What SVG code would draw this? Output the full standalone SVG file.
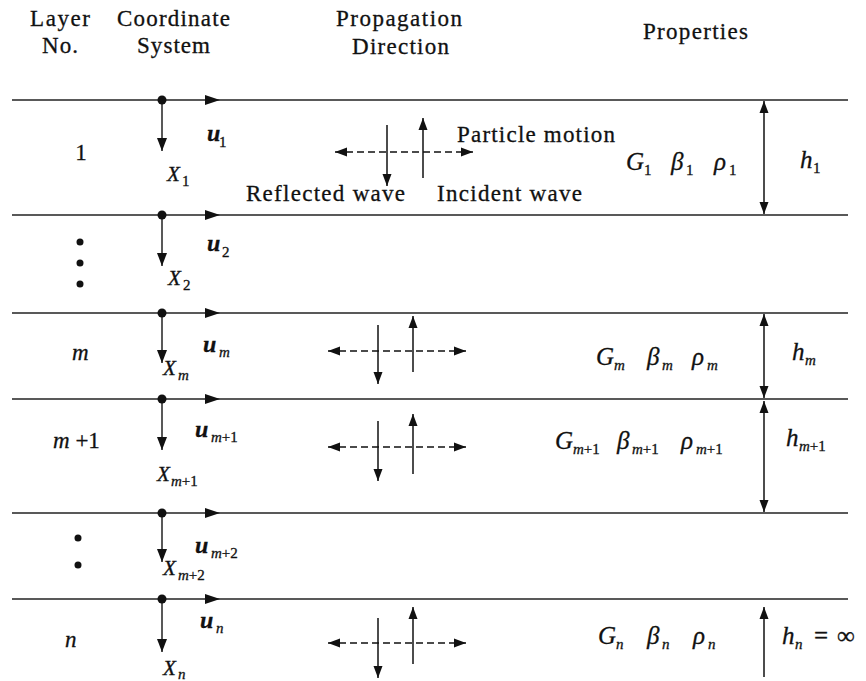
<svg xmlns="http://www.w3.org/2000/svg" width="866" height="681" viewBox="0 0 866 681">
<defs>
<marker id="ah" markerUnits="userSpaceOnUse" markerWidth="13" markerHeight="10" refX="12" refY="5" orient="auto-start-reverse" viewBox="0 0 13 10">
<path d="M0,0.5 L12,5 L0,9.5 z" fill="#111"/>
</marker>
<marker id="ahs" markerUnits="userSpaceOnUse" markerWidth="14" markerHeight="11" refX="13" refY="5.5" orient="auto-start-reverse" viewBox="0 0 14 11">
<path d="M0,0.5 L13,5.5 L0,10.5 z" fill="#111"/>
</marker>
</defs>
<style>
text{font-family:"Liberation Serif","Times New Roman",serif;fill:#111;stroke:#111;stroke-width:0.3}
.hd{font-size:23px}
.lb{font-size:23px}
.u{font-size:24px;font-weight:bold;font-style:italic}
.x{font-size:21px;font-style:italic}
.sym{font-size:25px;font-style:italic}
.sb{font-size:15px}
.sbi{font-size:15px;font-style:italic}
.it{font-style:italic}
.layer{stroke:#222;stroke-width:1.5;fill:none}
.ax{stroke:#222;stroke-width:1.5;fill:none;marker-end:url(#ahs)}
.pa{stroke:#111;stroke-width:1.5;fill:none;marker-end:url(#ah)}
.pd{stroke:#111;stroke-width:1.5;fill:none;stroke-dasharray:7 4;marker-start:url(#ah);marker-end:url(#ah)}
.dbl{stroke:#111;stroke-width:1.5;fill:none;marker-start:url(#ah);marker-end:url(#ah)}
.tri{fill:#111}
</style>

<g id="header">
<text class="hd" x="30" y="26" textLength="60" lengthAdjust="spacing">Layer</text>
<text class="hd" x="42" y="53" textLength="36" lengthAdjust="spacing">No.</text>
<text class="hd" x="117" y="26" textLength="113" lengthAdjust="spacing">Coordinate</text>
<text class="hd" x="137" y="53" textLength="73" lengthAdjust="spacing">System</text>
<text class="hd" x="336" y="26" textLength="126" lengthAdjust="spacing">Propagation</text>
<text class="hd" x="352" y="54" textLength="97" lengthAdjust="spacing">Direction</text>
<text class="hd" x="643" y="39" textLength="105" lengthAdjust="spacing">Properties</text>
</g>

<g id="connectors">
<line class="layer" x1="12" y1="100" x2="848" y2="100"/>
<line class="layer" x1="12" y1="215" x2="848" y2="215"/>
<line class="layer" x1="12" y1="313" x2="848" y2="313"/>
<line class="layer" x1="12" y1="399" x2="848" y2="399"/>
<line class="layer" x1="12" y1="513" x2="848" y2="513"/>
<line class="layer" x1="12" y1="599" x2="848" y2="599"/>
<line class="ax" x1="162" y1="100" x2="162" y2="151"/>
<line class="ax" x1="162" y1="215" x2="162" y2="266"/>
<line class="ax" x1="162" y1="313" x2="162" y2="363"/>
<line class="ax" x1="162" y1="399" x2="162" y2="450"/>
<line class="ax" x1="162" y1="513" x2="162" y2="562"/>
<line class="ax" x1="162" y1="599" x2="162" y2="652"/>
<line class="dbl" x1="764" y1="101" x2="764" y2="214"/>
<line class="dbl" x1="764" y1="314" x2="764" y2="398"/>
<line class="dbl" x1="764" y1="401" x2="764" y2="512"/>
<line class="pa" x1="764" y1="677" x2="764" y2="607"/>
<line class="pd" x1="335" y1="152" x2="473" y2="152"/>
<line class="pa" x1="387" y1="125" x2="387" y2="186"/>
<line class="pa" x1="423" y1="178" x2="423" y2="118"/>
<line class="pd" x1="328" y1="351" x2="466" y2="351"/>
<line class="pa" x1="378" y1="325" x2="378" y2="384"/>
<line class="pa" x1="413" y1="372" x2="413" y2="316"/>
<line class="pd" x1="328" y1="447" x2="466" y2="447"/>
<line class="pa" x1="378" y1="421" x2="378" y2="481"/>
<line class="pa" x1="413" y1="474" x2="413" y2="414"/>
<line class="pd" x1="328" y1="643" x2="466" y2="643"/>
<line class="pa" x1="378" y1="618" x2="378" y2="678"/>
<line class="pa" x1="413" y1="664" x2="413" y2="607"/>
</g>

<g id="origins">
<circle cx="162" cy="100" r="4.5" fill="#111"/>
<circle cx="162" cy="215" r="4.5" fill="#111"/>
<circle cx="162" cy="313" r="4.5" fill="#111"/>
<circle cx="162" cy="399" r="4.5" fill="#111"/>
<circle cx="162" cy="513" r="4.5" fill="#111"/>
<circle cx="162" cy="599" r="4.5" fill="#111"/>
<polygon class="tri" points="205,95 220,100 205,105"/>
<polygon class="tri" points="205,210 220,215 205,220"/>
<polygon class="tri" points="205,308 220,313 205,318"/>
<polygon class="tri" points="205,394 220,399 205,404"/>
<polygon class="tri" points="205,508 220,513 205,518"/>
<polygon class="tri" points="205,594 220,599 205,604"/>
</g>

<g id="layer-1">
<text class="lb" x="81" y="160" text-anchor="middle">1</text>
<text class="u" x="207" y="141">u</text><text class="sb" x="219" y="147">1</text>
<text class="x" x="167" y="181">X</text><text class="sb" x="182" y="186">1</text>
<text class="hd" x="457" y="142" textLength="158" lengthAdjust="spacing">Particle motion</text>
<text class="hd" x="246" y="201" textLength="159" lengthAdjust="spacing">Reflected wave</text>
<text class="hd" x="437" y="201" textLength="145" lengthAdjust="spacing">Incident wave</text>
<text class="sym" x="626" y="170">G</text><text class="sb" x="644" y="175">1</text>
<text class="sym" x="671" y="170">β</text><text class="sb" x="686" y="175">1</text>
<text class="sym" x="714" y="170">ρ</text><text class="sb" x="729" y="175">1</text>
<text class="sym" x="800" y="168">h</text><text class="sb" x="813" y="173">1</text>
</g>

<g id="layer-2">
<circle cx="80" cy="242" r="3.5" fill="#111"/>
<circle cx="80" cy="263" r="3.5" fill="#111"/>
<circle cx="80" cy="284" r="3.5" fill="#111"/>
<text class="u" x="207" y="251">u</text><text class="sb" x="222" y="257">2</text>
<text class="x" x="168" y="285">X</text><text class="sb" x="183" y="290">2</text>
</g>

<g id="layer-m">
<text class="lb it" x="72" y="360">m</text>
<text class="u" x="203" y="352">u</text><text class="sbi" x="219" y="357">m</text>
<text class="x" x="163" y="375">X</text><text class="sbi" x="178" y="380">m</text>
<text class="sym" x="596" y="365">G</text><text class="sbi" x="614" y="370">m</text>
<text class="sym" x="647" y="365">β</text><text class="sbi" x="662" y="370">m</text>
<text class="sym" x="692" y="365">ρ</text><text class="sbi" x="707" y="370">m</text>
<text class="sym" x="792" y="360">h</text><text class="sbi" x="805" y="365">m</text>
</g>

<g id="layer-m1">
<text class="lb" x="53" y="448"><tspan class="it">m</tspan> +1</text>
<text class="u" x="195" y="437">u</text><text class="sb" x="211" y="442"><tspan class="it">m</tspan>+1</text>
<text class="x" x="157" y="481">X</text><text class="sb" x="171" y="486"><tspan class="it">m</tspan>+1</text>
<text class="sym" x="555" y="449">G</text><text class="sb" x="573" y="454"><tspan class="it">m</tspan>+1</text>
<text class="sym" x="617" y="449">β</text><text class="sb" x="632" y="454"><tspan class="it">m</tspan>+1</text>
<text class="sym" x="681" y="449">ρ</text><text class="sb" x="696" y="454"><tspan class="it">m</tspan>+1</text>
<text class="sym" x="786" y="446">h</text><text class="sb" x="799" y="451"><tspan class="it">m</tspan>+1</text>
</g>

<g id="layer-m2">
<circle cx="78" cy="538" r="3.5" fill="#111"/>
<circle cx="78" cy="565" r="3.5" fill="#111"/>
<text class="u" x="195" y="553">u</text><text class="sb" x="211" y="558"><tspan class="it">m</tspan>+2</text>
<text class="x" x="163" y="575">X</text><text class="sb" x="178" y="580"><tspan class="it">m</tspan>+2</text>
</g>

<g id="layer-n">
<text class="lb it" x="65" y="647">n</text>
<text class="u" x="200" y="628">u</text><text class="sbi" x="216" y="633">n</text>
<text class="x" x="163" y="675">X</text><text class="sbi" x="178" y="679">n</text>
<text class="sym" x="598" y="644">G</text><text class="sbi" x="616" y="649">n</text>
<text class="sym" x="647" y="644">β</text><text class="sbi" x="662" y="649">n</text>
<text class="sym" x="693" y="644">ρ</text><text class="sbi" x="708" y="649">n</text>
<text class="sym" x="782" y="644">h</text><text class="sbi" x="795" y="649">n</text>
<text class="sym" x="814" y="644" style="font-style:normal">=</text>
<text class="sym" x="837" y="644" style="font-style:normal">∞</text>
</g>
</svg>
